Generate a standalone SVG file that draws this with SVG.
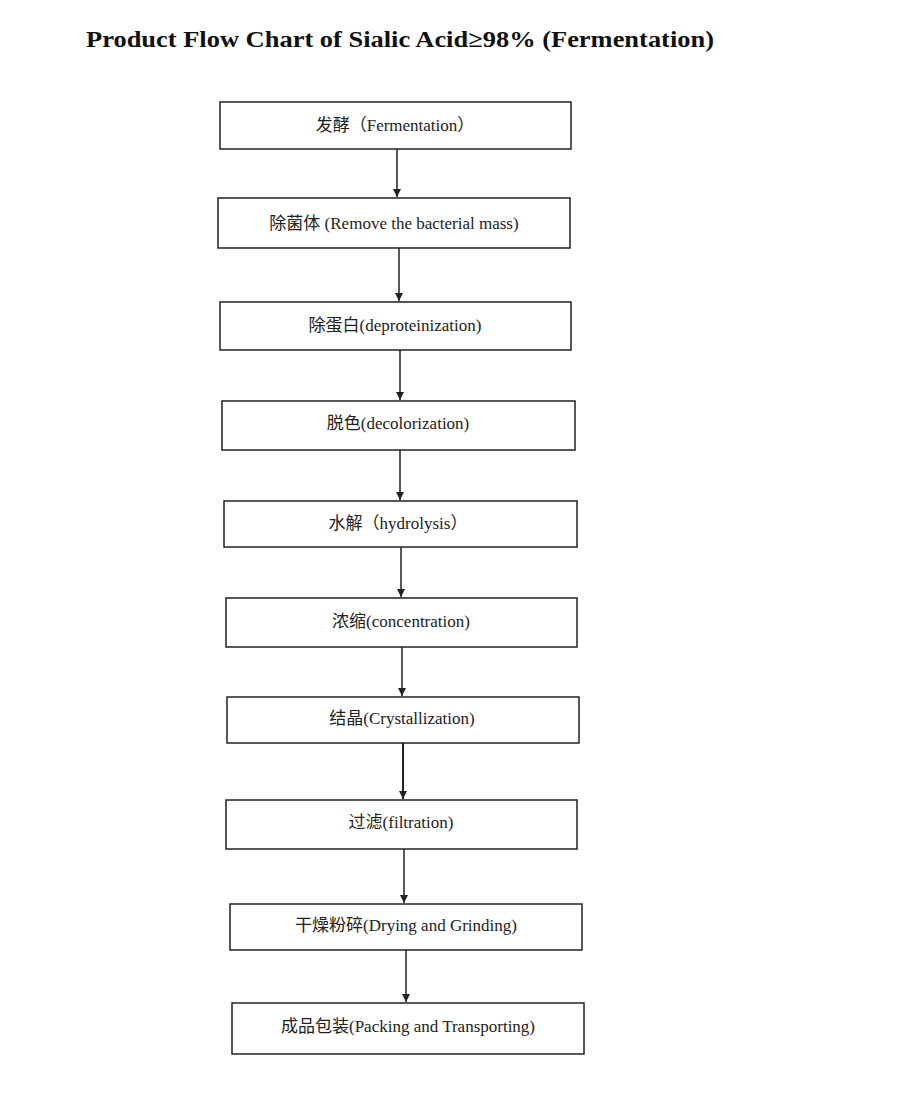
<svg xmlns="http://www.w3.org/2000/svg" width="900" height="1111" viewBox="0 0 900 1111">
<defs>
<style>
.b{fill:#fff;stroke:#222;stroke-width:1.5}
.t{font-family:"Liberation Serif","Noto Sans CJK SC",serif;font-size:17px;fill:#222;text-anchor:middle}
.c{stroke:#222;stroke-width:1.5;fill:none;marker-end:url(#a)}
</style>
<marker id="a" markerWidth="10" markerHeight="10" refX="8" refY="4" orient="auto" markerUnits="userSpaceOnUse"><path d="M0,0 L8,4 L0,8 Z" fill="#222"/></marker>
</defs>
<rect width="900" height="1111" fill="#fff"/>
<text x="86" y="47" textLength="628" lengthAdjust="spacingAndGlyphs" style="font-family:'Liberation Serif','Noto Sans CJK SC',serif;font-size:23px;font-weight:bold;fill:#111">Product Flow Chart of Sialic Acid≥98% (Fermentation)</text>
<g id="connectors">
<line class="c" x1="397" y1="149" x2="397" y2="197"/>
<line class="c" x1="399" y1="248" x2="399" y2="301"/>
<line class="c" x1="400" y1="350" x2="400" y2="400"/>
<line class="c" x1="400" y1="450" x2="400" y2="500"/>
<line class="c" x1="401" y1="547" x2="401" y2="597"/>
<line class="c" x1="402" y1="647" x2="402" y2="696"/>
<line class="c" x1="403" y1="743" x2="403" y2="799" style="stroke-width:2"/>
<line class="c" x1="404" y1="849" x2="404" y2="903"/>
<line class="c" x1="406" y1="950" x2="406" y2="1002"/>
</g>
<g id="n1"><rect class="b" x="220" y="102" width="351" height="47"/><text class="t" x="395" y="131">发酵（Fermentation）</text></g>
<g id="n2"><rect class="b" x="218" y="198" width="352" height="50"/><text class="t" x="394" y="229">除菌体 (Remove the bacterial mass)</text></g>
<g id="n3"><rect class="b" x="220" y="302" width="351" height="48"/><text class="t" x="395" y="331">除蛋白(deproteinization)</text></g>
<g id="n4"><rect class="b" x="222" y="401" width="353" height="49"/><text class="t" x="398" y="429">脱色(decolorization)</text></g>
<g id="n5"><rect class="b" x="224" y="501" width="353" height="46"/><text class="t" x="398" y="529">水解（hydrolysis）</text></g>
<g id="n6"><rect class="b" x="226" y="598" width="351" height="49"/><text class="t" x="401" y="627">浓缩(concentration)</text></g>
<g id="n7"><rect class="b" x="227" y="697" width="352" height="46"/><text class="t" x="402" y="724">结晶(Crystallization)</text></g>
<g id="n8"><rect class="b" x="226" y="800" width="351" height="49"/><text class="t" x="401" y="828">过滤(filtration)</text></g>
<g id="n9"><rect class="b" x="230" y="904" width="352" height="46"/><text class="t" x="406" y="931">干燥粉碎(Drying and Grinding)</text></g>
<g id="n10"><rect class="b" x="232" y="1003" width="352" height="51"/><text class="t" x="408" y="1032">成品包装(Packing and Transporting)</text></g>
</svg>
